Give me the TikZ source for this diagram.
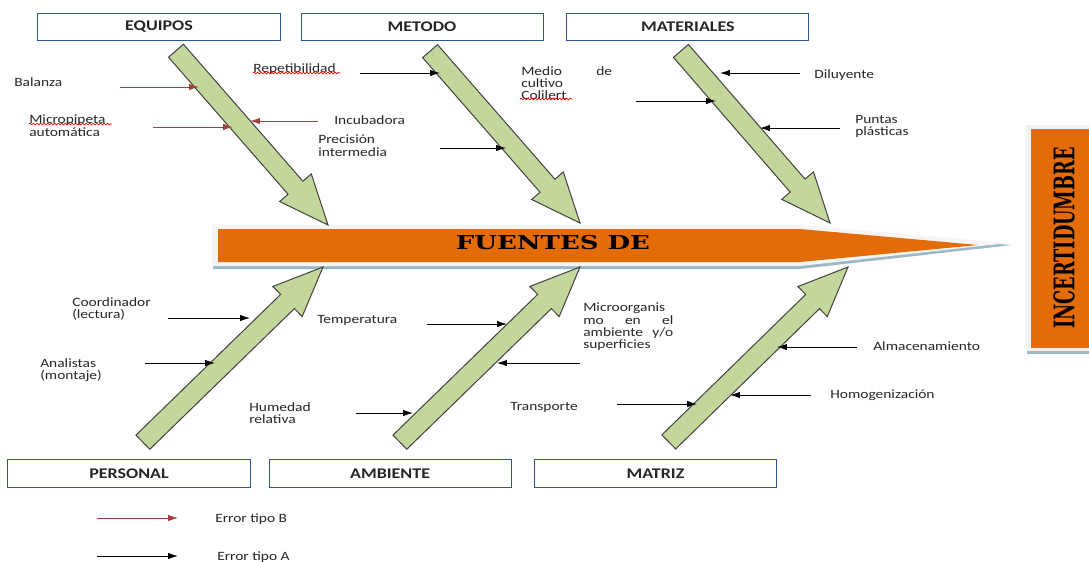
\documentclass[tikz,border=0pt]{standalone}
\usepackage{fontspec}
\setmainfont{Carlito}[FakeStretch=1.22]
\newfontfamily\heavyfont{DejaVu Serif}
\usepackage{graphicx}
\usepackage{tikz}
\usetikzlibrary{shapes.arrows,arrows.meta,positioning,decorations.pathmorphing}

\definecolor{spineorange}{HTML}{E36C09}
\definecolor{armgreen}{HTML}{C3D69B}
\definecolor{boxblue}{HTML}{2F5597}
\definecolor{errred}{HTML}{A0403C}
\definecolor{shadowblue}{HTML}{9DB9C6}

\tikzset{
  catbox/.style={draw=boxblue, line width=0.7pt, minimum width=6.05cm, minimum height=0.68cm,
    font=\bfseries\fontsize{10.5}{11}\selectfont, text=black!85, inner sep=0},
  bigarrow/.style={single arrow, draw=black!75, fill=armgreen, line width=0.7pt, inner sep=0.21cm,
    minimum width=1.05cm, single arrow tip angle=46, anchor=tip, outer sep=0},
  lbl/.style={font=\fontsize{9}{8.6}\selectfont, text=black!85, inner sep=0, align=left, anchor=north west},
  typeA/.style={-{Latex[length=7pt,width=4.5pt]}, line width=0.6pt, black},
  typeB/.style={-{Latex[length=7pt,width=4.5pt]}, line width=0.6pt, errred},
  spell/.style={red, line width=0.5pt, decorate, decoration={snake, amplitude=0.6pt, segment length=2.5pt}}
}

\begin{document}
\begin{tikzpicture}[x=0.025cm, y=-0.025cm]
\useasboundingbox (0,0) rectangle (1089,561);

% category boxes
\node[catbox] (equipos) at (159,27) {EQUIPOS};
\node[catbox, right=0.5cm of equipos] (metodo) {METODO};
\node[catbox, right=0.57cm of metodo] (materiales) {MATERIALES};
\node[catbox] (personal) at (129,473.5) {PERSONAL};
\node[catbox, right=0.45cm of personal] (ambiente) {AMBIENTE};
\node[catbox, right=0.56cm of ambiente] (matriz) {MATRIZ};

% spine
\fill[shadowblue] (213,229) -- (800,229) -- (1012,245) -- (800,269) -- (213,269) -- cycle;
\fill[gray!8] (212,225) -- (800,225) -- (1008,243) -- (800,266) -- (212,266) -- cycle;
\fill[spineorange] (218,229) -- (800,229) -- (978,245) -- (800,262) -- (218,262) -- cycle;
\node[font=\heavyfont\bfseries\fontsize{13.6}{14}\selectfont] (fuentes) at (553,243) {\scalebox{1.36}[1]{FUENTES DE}};

% effect box
\fill[shadowblue] (1027,131) rectangle (1089,354);
\fill[gray!10] (1026,125) rectangle (1089,351);
\fill[spineorange] (1031,129) rectangle (1089,348);
\node[rotate=90, font=\heavyfont\bfseries\fontsize{12.6}{14}\selectfont] (incert) at (1064,238) {\scalebox{1}[1.6]{INCERTIDUMBRE}};

% green arms
\node[bigarrow, rotate=-48.9, minimum height=5.78cm] (equiposarm) at (328,225) {};
\node[bigarrow, rotate=-48.9, minimum height=5.70cm] (metodoarm) at (580,223) {};
\node[bigarrow, rotate=-49.1, minimum height=5.69cm] (materialesarm) at (830,223) {};
\node[bigarrow, rotate=44.2, minimum height=6.28cm] (personalarm) at (323,267) {};
\node[bigarrow, rotate=44.2, minimum height=6.28cm] (ambientearm) at (580,267) {};
\node[bigarrow, rotate=44.3, minimum height=6.26cm] (matrizarm) at (848,267) {};

% causes, upper side
\node[lbl] (balanza) at (14,77) {Balanza};
\node[lbl] (micropipeta) at (29,115) {Micropipeta\\automática};
\node[lbl] (repetib) at (253,63) {Repetibilidad};
\node[lbl] (incub) at (334,115) {Incubadora};
\node[lbl] (precision) at (318,135) {Precisión\\intermedia};
\node[lbl] (medio) at (521,66) {\makebox[2.27cm][s]{Medio de}\\cultivo\\Colilert};
\node[lbl] (diluy) at (814,69) {Diluyente};
\node[lbl] (puntas) at (855,115) {Puntas\\plásticas};
\draw[spell] (29,124) -- (112,124);
\draw[spell] (253,73) -- (340,73);
\draw[spell] (520,99) -- (572,99);

% causes, lower side
\node[lbl] (coord) at (72,297) {Coordinador\\(lectura)};
\node[lbl] (analistas) at (40,358) {Analistas\\(montaje)};
\node[lbl] (temp) at (317,315) {Temperatura};
\node[lbl] (humedad) at (249,402) {Humedad\\relativa};
\node[lbl] (micro) at (583,303) {Microorganis\\\makebox[2.25cm][s]{mo en el}\\\makebox[2.25cm][s]{ambiente y/o}\\superficies};
\node[lbl] (transp) at (510,402) {Transporte};
\node[lbl] (almac) at (873,341) {Almacenamiento};
\node[lbl] (homog) at (830,390) {Homogenización};

% legend
\node[lbl] (tipoB) at (215,513) {Error tipo B};
\node[lbl] (tipoA) at (217,551) {Error tipo A};

% end points of the small arrows
\coordinate (bal1) at (120,87);   \coordinate (bal2) at (199,87);
\coordinate (mic1) at (153,127);  \coordinate (mic2) at (233,127);
\coordinate (inc1) at (318,121);  \coordinate (inc2) at (250,121);
\coordinate (rep1) at (360,73);   \coordinate (rep2) at (440,73);
\coordinate (pre1) at (440,148);  \coordinate (pre2) at (506,148);
\coordinate (med1) at (636,101);  \coordinate (med2) at (716,101);
\coordinate (dil1) at (800,73);   \coordinate (dil2) at (720,73);
\coordinate (pun1) at (840,128);  \coordinate (pun2) at (760,128);
\coordinate (coo1) at (168,318);  \coordinate (coo2) at (250,318);
\coordinate (ana1) at (145,363);  \coordinate (ana2) at (215,363);
\coordinate (tem1) at (427,324);  \coordinate (tem2) at (507,324);
\coordinate (hum1) at (356,413);  \coordinate (hum2) at (413,413);
\coordinate (mio1) at (580,363);  \coordinate (mio2) at (497,363);
\coordinate (tra1) at (617,404);  \coordinate (tra2) at (697,404);
\coordinate (alm1) at (857,347);  \coordinate (alm2) at (777,347);
\coordinate (hom1) at (811,395);  \coordinate (hom2) at (730,395);
\coordinate (leB1) at (97,518);   \coordinate (leB2) at (178,518);
\coordinate (leA1) at (97,556);   \coordinate (leA2) at (178,556);

% type B (red)
\draw[typeB] (bal1) -- (bal2);
\draw[typeB] (mic1) -- (mic2);
\draw[typeB] (inc1) -- (inc2);
\draw[typeB] (leB1) -- (leB2);
% type A (black)
\draw[typeA] (rep1) -- (rep2);
\draw[typeA] (pre1) -- (pre2);
\draw[typeA] (med1) -- (med2);
\draw[typeA] (dil1) -- (dil2);
\draw[typeA] (pun1) -- (pun2);
\draw[typeA] (coo1) -- (coo2);
\draw[typeA] (ana1) -- (ana2);
\draw[typeA] (tem1) -- (tem2);
\draw[typeA] (hum1) -- (hum2);
\draw[typeA] (mio1) -- (mio2);
\draw[typeA] (tra1) -- (tra2);
\draw[typeA] (alm1) -- (alm2);
\draw[typeA] (hom1) -- (hom2);
\draw[typeA] (leA1) -- (leA2);
\end{tikzpicture}
\end{document}
